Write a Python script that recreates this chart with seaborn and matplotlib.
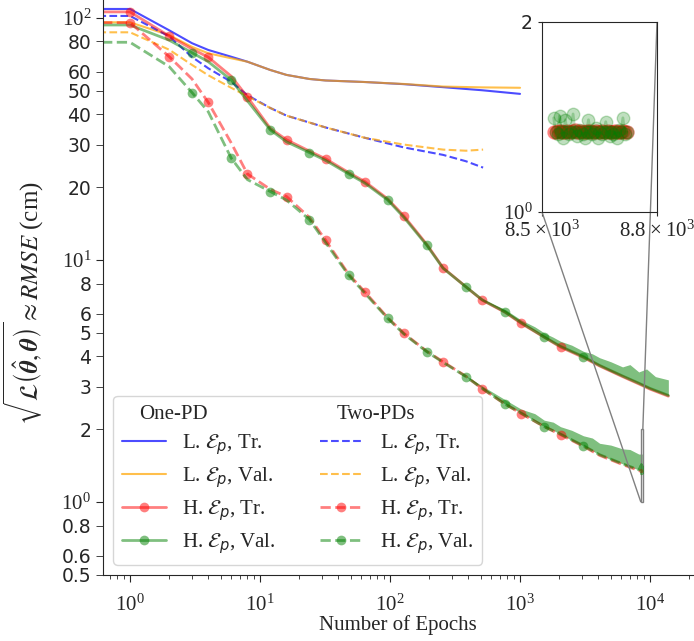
import matplotlib
matplotlib.use("Agg")
import matplotlib.pyplot as plt
from matplotlib.lines import Line2D
from matplotlib.ticker import NullFormatter
from mpl_toolkits.axes_grid1.inset_locator import mark_inset
import seaborn as sns

SERIF = "Liberation Serif"

# ----------------------------
# Data
# ----------------------------

# low-res models, one PD
l1_epochs = [0, 1, 2, 3, 4, 6, 8, 12, 16, 24, 32, 64, 128, 256, 512, 1000]
l1_tr = [109, 109, 89, 78.7, 73.8, 69.2, 66, 61, 58.2, 56, 55.2, 54.4, 53.3, 51.8, 50.3, 48.6]
l1_val = [96, 96, 85, 76, 71.5, 68.2, 66, 61, 58.2, 56, 55.2, 54.4, 53.4, 52.1, 51.7, 51.5]

# low-res models, two PDs
l2_epochs = [0, 1, 2, 3, 4, 6, 8, 12, 16, 24, 32, 64, 128, 256, 384, 520]
l2_tr = [102, 102, 84, 69, 62, 54.5, 48, 42.5, 39.5, 37, 35.3, 32, 29.2, 27.2, 25.6, 24.1]
l2_val = [87.3, 87.3, 74, 64, 58, 51.5, 47.5, 42.5, 39.5, 37, 35.3, 32, 30.0, 28.6, 28.3, 28.6]

# high-res models, one PD
h1_epochs = [0, 1, 2, 3, 4, 6, 8, 12, 16, 24, 32, 48, 64, 96, 128, 192, 256, 384, 512,
             768, 1024, 1536, 2048, 3072, 4096, 6144, 8192, 10000, 13830]
h1_tr = [106, 106, 84.3, 74.5, 68.9, 57.5, 47.2, 35.0, 31.4, 28.2, 26.2, 23.0, 21.1, 17.9,
         15.2, 11.6, 9.29, 7.75, 6.83, 6.08, 5.47, 4.80, 4.37, 3.96, 3.65, 3.30, 3.08, 2.93, 2.74]
h1_val = [93.6, 93.6, 81, 71.9, 66, 55.5, 45.5, 34.5, 30.8, 27.8, 25.8, 22.7, 20.8, 17.7,
          15.0, 11.5, 9.25, 7.75, 6.85, 6.11, 5.50, 4.81, 4.40, 3.99, 3.67, 3.32, 3.10, 2.95, 2.76]

# high-res models, two PDs (the tail after 8192 is what the inset shows)
h2_epochs = [0, 1, 2, 3, 4, 6, 8, 12, 16, 24, 32, 48, 64, 96, 128, 192, 256, 384, 512,
             768, 1024, 1536, 2048, 3072, 4096, 6144, 8192,
             8530, 8535, 8540, 8545, 8550, 8555, 8560, 8565, 8570, 8575,
             8580, 8585, 8590, 8595, 8600, 8605, 8610, 8615, 8620, 8625,
             8630, 8635, 8640, 8645, 8650, 8655, 8660, 8665, 8670, 8675,
             8680, 8685, 8690, 8695, 8700, 8705, 8710, 8715, 8720]
h2_tr = [95.7, 95.7, 69.3, 56, 44.8, 30.5, 22.7, 19.6, 18.3, 15.0, 12.07, 8.75, 7.39, 5.78,
         4.98, 4.20, 3.80, 3.31, 2.94, 2.54, 2.32, 2.05, 1.90, 1.70, 1.56, 1.43, 1.35,
         1.340, 1.338, 1.342, 1.340, 1.345, 1.338, 1.340, 1.343, 1.340, 1.338,
         1.342, 1.350, 1.340, 1.338, 1.345, 1.340, 1.338, 1.342, 1.340, 1.345,
         1.338, 1.340, 1.342, 1.338, 1.340, 1.345, 1.340, 1.338, 1.342, 1.340,
         1.338, 1.340, 1.342, 1.338, 1.340, 1.338, 1.342, 1.340, 1.338]
h2_val = [79.4, 79.4, 63, 49.2, 41, 26.4, 21.5, 19.2, 17.7, 14.7, 11.8, 8.66, 7.3, 5.74,
          4.95, 4.18, 3.78, 3.30, 2.95, 2.54, 2.33, 2.05, 1.91, 1.71, 1.57, 1.44, 1.36,
          1.41, 1.34, 1.33, 1.42, 1.34, 1.31, 1.40, 1.34, 1.33, 1.34,
          1.43, 1.34, 1.32, 1.35, 1.34, 1.33, 1.31, 1.34, 1.40, 1.34,
          1.33, 1.34, 1.36, 1.31, 1.34, 1.33, 1.34, 1.39, 1.34, 1.32,
          1.34, 1.33, 1.34, 1.31, 1.35, 1.34, 1.41, 1.33, 1.34]

# epochs that carry a marker
tr_marks = [1, 2, 4, 8, 16, 32, 64, 128, 256, 512, 1024, 2048]
val_marks = [3, 6, 12, 24, 48, 96, 192, 384, 768, 1536, 3072]

# spread of the noisy validation curves (lower / upper edge)
n1_epochs = [512, 768, 1024, 1300, 1536, 1800, 2048, 2500, 3072, 3600, 4096, 5000,
             6144, 7000, 8192, 9400, 11000, 13830]
n1_lo = [6.85, 6.11, 5.50, 5.10, 4.81, 4.57, 4.40, 4.17, 3.99, 3.78, 3.67, 3.47,
         3.32, 3.22, 3.10, 2.98, 2.88, 2.76]
n1_hi = [6.90, 6.25, 5.65, 5.30, 5.00, 4.80, 4.62, 4.45, 4.20, 4.10, 3.95, 3.80,
         3.62, 3.70, 3.45, 3.55, 3.30, 3.20]
n2_epochs = [384, 512, 768, 1024, 1300, 1536, 1800, 2048, 2500, 3072, 3600, 4096, 5000,
             6144, 7000, 8192, 8720]
n2_lo = [3.30, 2.95, 2.54, 2.33, 2.17, 2.05, 1.98, 1.91, 1.80, 1.71, 1.63, 1.57, 1.50,
         1.44, 1.40, 1.36, 1.34]
n2_hi = [3.33, 3.02, 2.65, 2.42, 2.32, 2.18, 2.14, 2.05, 1.98, 1.88, 1.84, 1.75, 1.72,
         1.66, 1.65, 1.58, 1.58]

y_minor = [0.5, 0.6, 0.8, 2, 3, 4, 5, 6, 8, 20, 30, 40, 50, 60, 80]
y_minor_labels = ["0.5", "0.6", "0.8", "2", "3", "4", "5", "6", "8",
                  "20", "30", "40", "50", "60", "80"]

# ----------------------------
# Plot
# ----------------------------
sns.set_style("ticks")
plt.rcParams["font.family"] = ["DejaVu Sans"]

fig = plt.figure(figsize=(6.94, 6.41), dpi=100)
ax = fig.add_axes([103 / 694, 66 / 641, 590 / 694, 575 / 641])

L_KW = dict(lw=1.5, alpha=0.7, estimator=None, errorbar=None, sort=False)
H_KW = dict(lw=2, alpha=0.5, marker="o", ms=7, mew=0,
            estimator=None, errorbar=None, sort=False)

sns.lineplot(x=l1_epochs, y=l1_tr, ax=ax, color="blue", **L_KW)
sns.lineplot(x=l1_epochs, y=l1_val, ax=ax, color="orange", **L_KW)
sns.lineplot(x=l2_epochs, y=l2_tr, ax=ax, color="blue", ls="--", **L_KW)
sns.lineplot(x=l2_epochs, y=l2_val, ax=ax, color="orange", ls="--", **L_KW)

ax.fill_between(n1_epochs, n1_lo, n1_hi, color="green", alpha=0.5, lw=0, zorder=1)
ax.fill_between(n2_epochs, n2_lo, n2_hi, color="green", alpha=0.5, lw=0, zorder=1)

sns.lineplot(x=h1_epochs, y=h1_tr, ax=ax, color="red",
             markevery=[h1_epochs.index(e) for e in tr_marks], **H_KW)
sns.lineplot(x=h1_epochs, y=h1_val, ax=ax, color="green",
             markevery=[h1_epochs.index(e) for e in val_marks], **H_KW)
sns.lineplot(x=h2_epochs, y=h2_tr, ax=ax, color="red", ls="--",
             markevery=[h2_epochs.index(e) for e in tr_marks], **H_KW)
sns.lineplot(x=h2_epochs, y=h2_val, ax=ax, color="green", ls="--",
             markevery=[h2_epochs.index(e) for e in val_marks], **H_KW)

ax.set_xscale("log")
ax.set_yscale("log")
ax.set_xlim(0.62, 21400)
ax.set_ylim(0.5, 118.7)
sns.despine(ax=ax)

ax.xaxis.set_minor_formatter(NullFormatter())
ax.set_yticks(y_minor, labels=y_minor_labels, minor=True)
ax.tick_params(which="major", labelsize=15, labelfontfamily=SERIF, length=5)
ax.tick_params(axis="x", which="major", pad=9)
ax.tick_params(axis="x", which="minor", length=3)
ax.tick_params(axis="y", which="minor", labelsize=13.5, length=5)

ax.set_xlabel("Number of Epochs", fontsize=15, family=SERIF, va="top")
ax.xaxis.set_label_coords(0.5, -0.07)
ax.set_ylabel(r"$\sqrt{\mathcal{L}\left(\hat{\boldsymbol{\theta}}, \boldsymbol{\theta}\right)}"
              r" \approx RMSE$ (cm)", fontsize=18, family=SERIF, math_fontfamily="stix")
ax.yaxis.set_label_coords(-0.097, 0.473)

# legend: two columns with a header each
blank = Line2D([], [], color="none")
lp = dict(lw=1.5, alpha=0.7)
hp = dict(lw=2, alpha=0.5, marker="o", ms=7, mew=0)
handles = [blank,
           Line2D([], [], color="blue", **lp), Line2D([], [], color="orange", **lp),
           Line2D([], [], color="red", **hp), Line2D([], [], color="green", **hp),
           blank,
           Line2D([], [], color="blue", ls="--", **lp), Line2D([], [], color="orange", ls="--", **lp),
           Line2D([], [], color="red", ls="--", **hp), Line2D([], [], color="green", ls="--", **hp)]
labels = ["One-PD",
          r"L. $\mathcal{E}_p$, Tr.", r"L. $\mathcal{E}_p$, Val.",
          r"H. $\mathcal{E}_p$, Tr.", r"H. $\mathcal{E}_p$, Val.",
          "Two-PDs",
          r"L. $\mathcal{E}_p$, Tr.", r"L. $\mathcal{E}_p$, Val.",
          r"H. $\mathcal{E}_p$, Tr.", r"H. $\mathcal{E}_p$, Val."]
leg = ax.legend(handles, labels, ncol=2, loc="lower left",
                prop={"family": SERIF, "size": 15}, handlelength=2.1,
                handletextpad=0.8, columnspacing=2.1, labelspacing=0.4)
for t in leg.get_texts():
    if t.get_text() in ("One-PD", "Two-PDs"):
        t.set_x(-43)

# zoomed inset on the end of the two-PD high-res curves
axins = fig.add_axes([542 / 694, 429 / 641, 115 / 694, 190 / 641])
tail = h2_epochs.index(8530)
axins.plot(h2_epochs[tail:], h2_tr[tail:], color="red", marker="o", ms=9.5, alpha=0.35, lw=2)
axins.plot(h2_epochs[tail:], h2_val[tail:], color="green", marker="o", ms=9, alpha=0.25, lw=2)
axins.set_xscale("log")
axins.set_yscale("log")
axins.set_xlim(8500, 8800)
axins.set_ylim(1, 2)
axins.set_xticks([8500, 8800], labels=[r"$\mathdefault{8.5\times10^{3}}$",
                                       r"$\mathdefault{8.8\times10^{3}}$"])
axins.set_xticks([], minor=True)
axins.set_yticks([1, 2], labels=[r"$\mathdefault{10^{0}}$", "2"])
axins.set_yticks([], minor=True)
axins.tick_params(labelsize=15, length=3)
for t in axins.get_xticklabels():
    t.set_fontfamily(SERIF)
axins.get_yticklabels()[0].set_fontfamily(SERIF)
axins.get_yticklabels()[1].set_fontsize(13.5)
mark_inset(ax, axins, loc1=1, loc2=3, fc="none", ec="0.5")

fig.savefig("out.png", dpi=100)
